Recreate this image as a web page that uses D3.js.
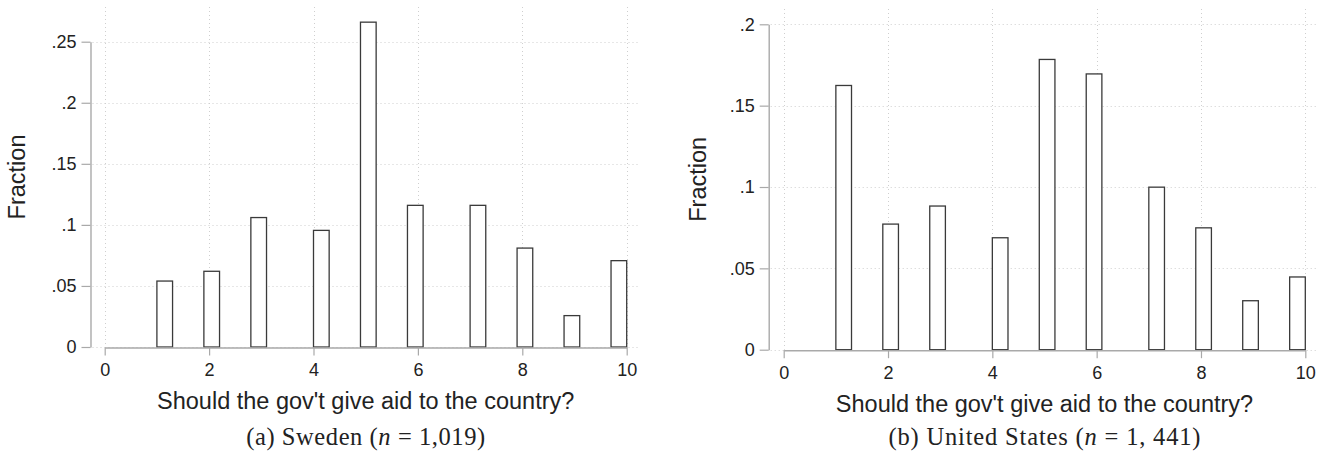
<!DOCTYPE html>
<html>
<head>
<meta charset="utf-8">
<script src="https://cdn.jsdelivr.net/npm/d3@7"></script>
<style>
  html, body { margin: 0; padding: 0; background: #fff; }
  svg { display: block; }
</style>
</head>
<body>
<svg id="chart" width="1324" height="451"></svg>
<script>
// ---------------- DATA ----------------
const categories = [1, 2, 3, 4, 5, 6, 7, 8, 9, 10];
const swedenFraction = [0.054, 0.062, 0.106, 0.0955, 0.266, 0.116, 0.116, 0.081, 0.0257, 0.0707];
const usFraction = [0.1624, 0.0772, 0.0883, 0.0688, 0.1784, 0.1695, 0.0999, 0.0749, 0.0301, 0.0447];

const xTicks = [0, 2, 4, 6, 8, 10];
const xTickLabels = ["0", "2", "4", "6", "8", "10"];
const swedenYTicks = [0, 0.05, 0.1, 0.15, 0.2, 0.25];
const swedenYTickLabels = ["0", ".05", ".1", ".15", ".2", ".25"];
const usYTicks = [0, 0.05, 0.1, 0.15, 0.2];
const usYTickLabels = ["0", ".05", ".1", ".15", ".2"];

// histogram binning (Stata: 30 bins from 1 to 10)
const binStart = 1, binEnd = 10, binCount = 30;

const xTitle = "Should the gov't give aid to the country?";
const yTitle = "Fraction";
const swedenCaption = ["(a) Sweden (", "n", " = 1,019)"];
const usCaption = ["(b) United States (", "n", " = 1, 441)"];

// ---------------- DRAW ----------------
const svg = d3.select("#chart");
const binW = (binEnd - binStart) / binCount;

function panel(cfg) {
  const g = svg.append("g");
  const x = d3.scaleLinear().domain([0, 10]).range([cfg.x0, cfg.x1]);
  const y = d3.scaleLinear().domain([0, d3.max(cfg.yTicks)]).range([cfg.y0, cfg.y1]);

  const gridLeft = cfg.axisX + 2;
  const gridRight = cfg.x1 + 13;

  // gridlines
  const grid = g.append("g")
    .attr("stroke", "#cfcfcf").attr("stroke-width", 1)
    .attr("stroke-dasharray", "1,3");
  grid.selectAll("line.h").data(cfg.yTicks).join("line")
    .attr("class", "h")
    .attr("x1", gridLeft).attr("x2", gridRight)
    .attr("y1", d => Math.round(y(d)) + 0.5).attr("y2", d => Math.round(y(d)) + 0.5);
  grid.selectAll("line.v").data(xTicks).join("line")
    .attr("class", "v")
    .attr("x1", d => Math.round(x(d)) + 0.5).attr("x2", d => Math.round(x(d)) + 0.5)
    .attr("y1", cfg.gridTop).attr("y2", cfg.y0);

  // bars
  const bars = categories.map((c, i) => {
    const k = Math.min(binCount - 1, Math.floor((c - binStart) / binW + 1e-9));
    return { a: binStart + k * binW, b: binStart + (k + 1) * binW, v: cfg.values[i] };
  });
  g.append("g").selectAll("rect").data(bars).join("rect")
    .attr("x", d => x(d.a))
    .attr("width", d => x(d.b) - x(d.a))
    .attr("y", d => y(d.v))
    .attr("height", d => y(0) - y(d.v))
    .attr("fill", "#fff")
    .attr("stroke", "#3a3a3a")
    .attr("stroke-width", 1.3);

  // x axis
  const xAxis = d3.axisBottom(x)
    .tickValues(xTicks)
    .tickFormat((d, i) => xTickLabels[i])
    .tickSize(8).tickSizeOuter(0).tickPadding(8);
  const gx = g.append("g")
    .attr("transform", `translate(0,${cfg.y0 + 0.5})`)
    .call(xAxis);
  gx.select(".domain").attr("stroke", "#a9a9a9").attr("stroke-width", 1.4);
  gx.selectAll(".tick line").attr("stroke", "#a9a9a9").attr("stroke-width", 1.2);
  gx.selectAll(".tick text")
    .attr("font-family", "'Liberation Sans', Arial, Helvetica, sans-serif")
    .attr("font-size", 18).attr("fill", "#222");

  // y axis
  const yAxis = d3.axisLeft(y)
    .tickValues(cfg.yTicks)
    .tickFormat((d, i) => cfg.yTickLabels[i])
    .tickSize(9).tickSizeOuter(0).tickPadding(5);
  const gy = g.append("g")
    .attr("transform", `translate(${cfg.axisX},0)`)
    .call(yAxis);
  gy.select(".domain").attr("stroke", "#a9a9a9").attr("stroke-width", 1.4);
  gy.selectAll(".tick line").attr("stroke", "#a9a9a9").attr("stroke-width", 1.2);
  gy.selectAll(".tick text")
    .attr("font-family", "'Liberation Sans', Arial, Helvetica, sans-serif")
    .attr("font-size", 18).attr("fill", "#222");

  // x title
  g.append("text")
    .attr("x", (cfg.x0 + cfg.x1) / 2)
    .attr("y", cfg.y0 + 62)
    .attr("text-anchor", "middle")
    .attr("font-family", "'Liberation Sans', Arial, Helvetica, sans-serif")
    .attr("font-size", 23.5).attr("fill", "#222")
    .text(xTitle);

  // y title
  g.append("text")
    .attr("transform", `translate(${cfg.yTitleX},${(cfg.gridTop + cfg.y0) / 2}) rotate(-90)`)
    .attr("text-anchor", "middle")
    .attr("font-family", "'Liberation Sans', Arial, Helvetica, sans-serif")
    .attr("font-size", 23.5).attr("fill", "#222")
    .text(yTitle);

  // caption
  const cap = g.append("text")
    .attr("x", (cfg.x0 + cfg.x1) / 2)
    .attr("y", 445)
    .attr("text-anchor", "middle")
    .attr("font-family", "'Liberation Serif', 'Times New Roman', serif")
    .attr("font-size", 24.5).attr("fill", "#222")
    .attr("textLength", cfg.captionWidth)
    .attr("lengthAdjust", "spacing");
  cap.append("tspan").text(cfg.caption[0]);
  cap.append("tspan").attr("font-style", "italic").text(cfg.caption[1]);
  cap.append("tspan").text(cfg.caption[2]);
}

panel({
  values: swedenFraction, yTicks: swedenYTicks, yTickLabels: swedenYTickLabels,
  x0: 104.7, x1: 626.7, y0: 347, y1: 41.7, axisX: 90.5, gridTop: 7,
  yTitleX: 25, caption: swedenCaption, captionWidth: 239
});
panel({
  values: usFraction, yTicks: usYTicks, yTickLabels: usYTickLabels,
  x0: 783.7, x1: 1305.3, y0: 349.7, y1: 24.3, axisX: 768.7, gridTop: 9,
  yTitleX: 706, caption: usCaption, captionWidth: 312
});
</script>
</body>
</html>
